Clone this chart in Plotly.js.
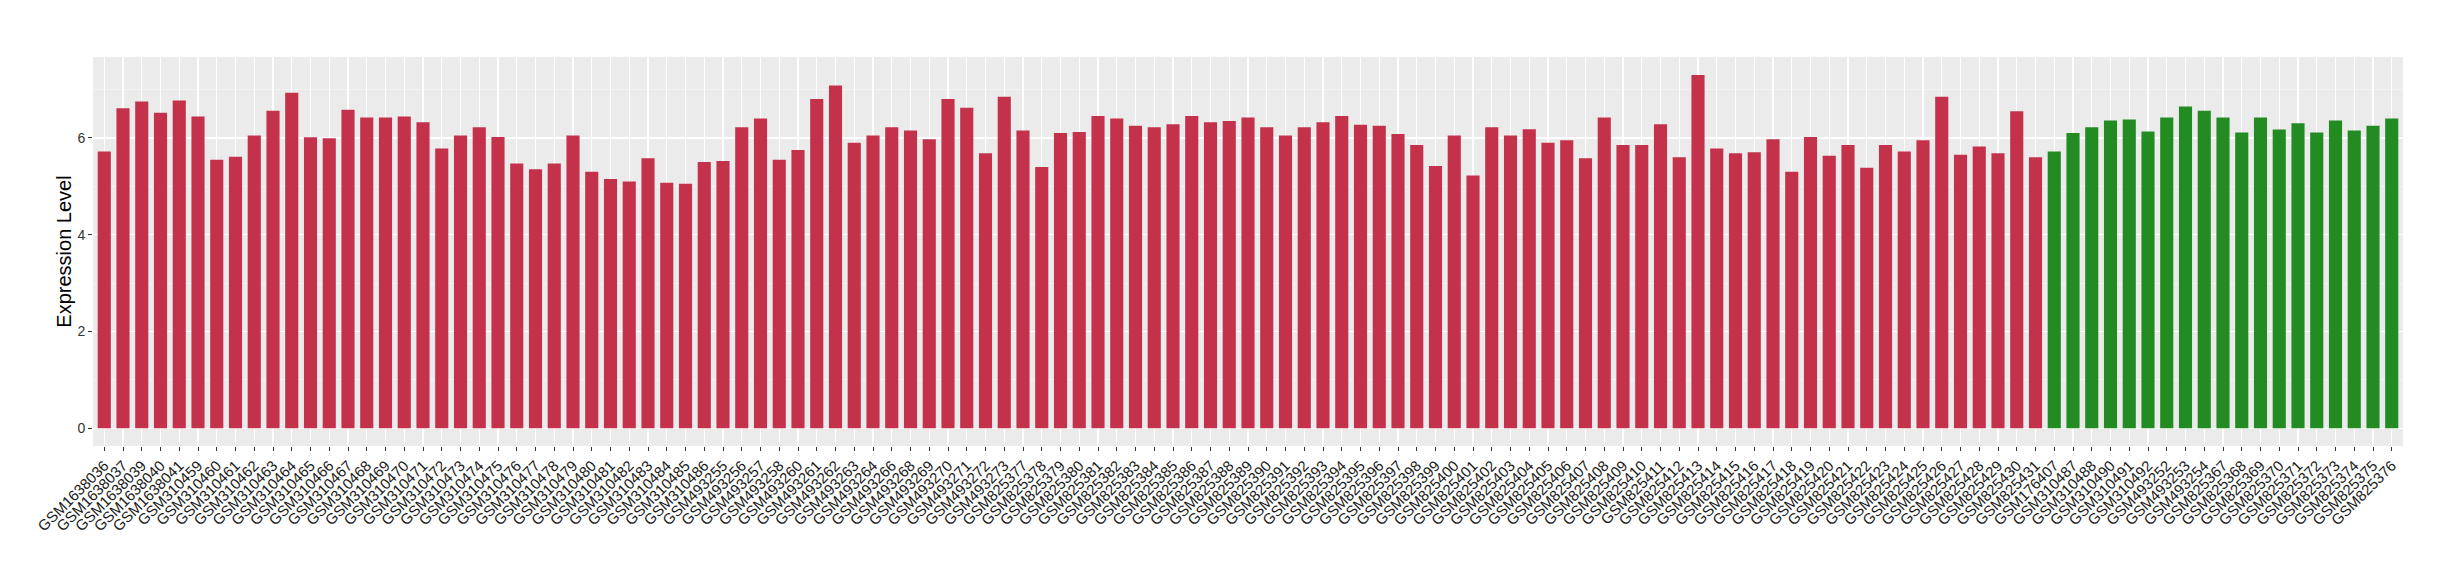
<!DOCTYPE html>
<html>
<head>
<meta charset="utf-8">
<script src="https://cdn.plot.ly/plotly-3.0.1.min.js"></script>
<style>html,body{margin:0;padding:0;background:#fff;}#chart{width:2460px;height:580px;}</style>
</head>
<body>
<div id="chart"></div>
<script>
// Group 1 (red) samples and expression levels
var redSamples = [
  "GSM1638036","GSM1638037","GSM1638039","GSM1638040","GSM1638041",
  "GSM310459","GSM310460","GSM310461","GSM310462","GSM310463","GSM310464","GSM310465","GSM310466","GSM310467","GSM310468",
  "GSM310469","GSM310470","GSM310471","GSM310472","GSM310473","GSM310474","GSM310475","GSM310476","GSM310477","GSM310478",
  "GSM310479","GSM310480","GSM310481","GSM310482","GSM310483","GSM310484","GSM310485","GSM310486",
  "GSM493255","GSM493256","GSM493257","GSM493258","GSM493260","GSM493261","GSM493262","GSM493263","GSM493264","GSM493266",
  "GSM493268","GSM493269","GSM493270","GSM493271","GSM493272","GSM493273",
  "GSM825377","GSM825378","GSM825379","GSM825380","GSM825381","GSM825382","GSM825383","GSM825384","GSM825385","GSM825386",
  "GSM825387","GSM825388","GSM825389","GSM825390","GSM825391","GSM825392","GSM825393","GSM825394","GSM825395","GSM825396",
  "GSM825397","GSM825398","GSM825399","GSM825400","GSM825401","GSM825402","GSM825403","GSM825404","GSM825405","GSM825406",
  "GSM825407","GSM825408","GSM825409","GSM825410","GSM825411","GSM825412","GSM825413","GSM825414","GSM825415","GSM825416",
  "GSM825417","GSM825418","GSM825419","GSM825420","GSM825421","GSM825422","GSM825423","GSM825424","GSM825425","GSM825426",
  "GSM825427","GSM825428","GSM825429","GSM825430","GSM825431"
];
var redValues = [
  5.72, 6.61, 6.75, 6.52, 6.77, 6.44, 5.55, 5.61, 6.05, 6.56,
  6.93, 6.01, 5.99, 6.58, 6.42, 6.42, 6.44, 6.32, 5.78, 6.05,
  6.22, 6.02, 5.47, 5.35, 5.47, 6.05, 5.30, 5.15, 5.10, 5.58,
  5.07, 5.05, 5.50, 5.52, 6.22, 6.40, 5.55, 5.75, 6.80, 7.08,
  5.90, 6.05, 6.22, 6.15, 5.97, 6.80, 6.62, 5.68, 6.85, 6.15,
  5.40, 6.10, 6.12, 6.45, 6.40, 6.25, 6.22, 6.28, 6.45, 6.32,
  6.35, 6.42, 6.22, 6.05, 6.22, 6.32, 6.45, 6.27, 6.25, 6.08,
  5.85, 5.42, 6.05, 5.22, 6.22, 6.05, 6.18, 5.90, 5.95, 5.58,
  6.42, 5.85, 5.85, 6.28, 5.60, 7.30, 5.78, 5.68, 5.70, 5.97,
  5.30, 6.02, 5.63, 5.85, 5.38, 5.85, 5.72, 5.95, 6.85, 5.65,
  5.82, 5.68, 6.55, 5.60
];
// Group 2 (green) samples and expression levels
var greenSamples = [
  "GSM176407","GSM310487","GSM310488","GSM310490","GSM310491","GSM310492",
  "GSM493252","GSM493253","GSM493254",
  "GSM825367","GSM825368","GSM825369","GSM825370","GSM825371","GSM825372","GSM825373","GSM825374","GSM825375","GSM825376"
];
var greenValues = [
  5.72, 6.10, 6.22, 6.36, 6.38, 6.13, 6.42, 6.65, 6.56, 6.42,
  6.11, 6.42, 6.17, 6.30, 6.11, 6.36, 6.15, 6.25, 6.40
];
var yTicks = [0, 2, 4, 6];

var allSamples = redSamples.concat(greenSamples);

var traces = [
  {type: 'bar', x: redSamples, y: redValues, marker: {color: '#C3324A', line: {width: 0}}, hoverinfo: 'x+y'},
  {type: 'bar', x: greenSamples, y: greenValues, marker: {color: '#228B22', line: {width: 0}}, hoverinfo: 'x+y'}
];

var layout = {
  width: 2460, height: 580,
  margin: {l: 93, r: 57, t: 57, b: 134, pad: 0},
  paper_bgcolor: '#FFFFFF',
  plot_bgcolor: '#EBEBEB',
  showlegend: false,
  barmode: 'overlay',
  bargap: 0.3,
  font: {family: 'Liberation Sans, Arial, sans-serif', color: '#1a1a1a'},
  xaxis: {
    type: 'category',
    categoryorder: 'array',
    categoryarray: allSamples,
    range: [-0.6, allSamples.length - 0.4],
    tickangle: -45,
    tickfont: {size: 15, color: '#1a1a1a'},
    ticks: 'outside', ticklen: 4, tickwidth: 1, tickcolor: '#333333',
    showgrid: true, gridcolor: '#FFFFFF', gridwidth: 1.4,
    showline: false, zeroline: false,
    automargin: false
  },
  yaxis: {
    range: [-0.365, 7.67],
    tickvals: yTicks,
    ticktext: yTicks.map(String),
    tickfont: {size: 14, color: '#333333'},
    ticks: 'outside', ticklen: 4, tickwidth: 1, tickcolor: '#333333',
    showgrid: true, gridcolor: '#FFFFFF', gridwidth: 1.4,
    minor: {tickvals: [1, 3, 5, 7], showgrid: true, gridcolor: '#F5F5F5', gridwidth: 0.8, ticks: ''},
    zeroline: false, showline: false,
    title: {text: 'Expression Level', font: {size: 20, color: '#000000'}, standoff: 0},
    automargin: false
  }
};

Plotly.newPlot('chart', traces, layout, {displayModeBar: false, staticPlot: true});
</script>
</body>
</html>
